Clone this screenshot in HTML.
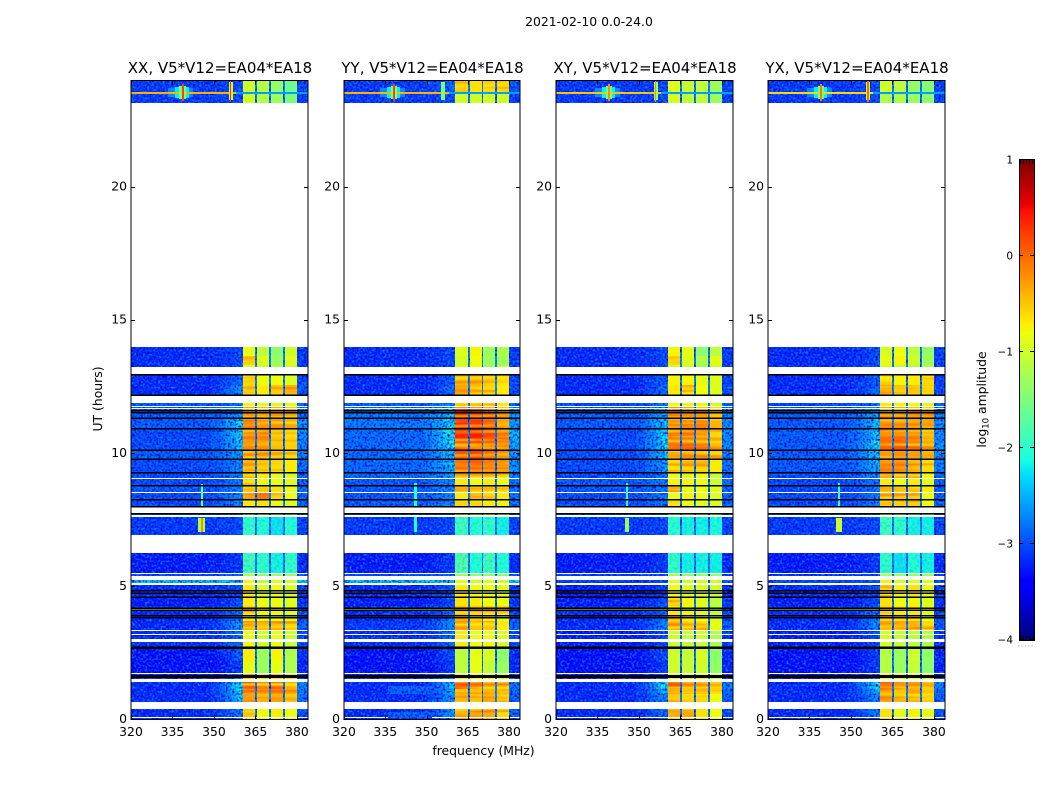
<!DOCTYPE html>
<html lang="en">
<head>
<meta charset="utf-8">
<title>2021-02-10 0.0-24.0 spectrogram panels</title>
<style>
html,body{margin:0;padding:0;background:#fff;width:1050px;height:800px;overflow:hidden}
svg{display:block;font-family:"DejaVu Sans","Liberation Sans",sans-serif;fill:#000}
.tick{font-size:12.4px}
.cell{shape-rendering:crispEdges}
.ln{shape-rendering:crispEdges}
</style>
</head>
<body>
<svg id="chart" xmlns="http://www.w3.org/2000/svg" width="1050" height="800" viewBox="0 0 1050 800">
  <defs>
    <filter id="speckle" x="0" y="0" width="1" height="1" color-interpolation-filters="sRGB">
      <feTurbulence type="fractalNoise" baseFrequency="0.46" numOctaves="1" seed="7" result="n"/>
      <feColorMatrix in="n" type="matrix" values="0 0 0 0 0.05  0 0 0 0 0.52  0 0 0 0 1  3 0 0 0 -1.3" result="light"/>
      <feColorMatrix in="n" type="matrix" values="0 0 0 0 0  0 0 0 0 0  0 0 0 0 0.85  0 3 0 0 -1.35" result="dark"/>
      <feMerge result="both"><feMergeNode in="light"/><feMergeNode in="dark"/></feMerge>
      <feComposite in="both" in2="SourceAlpha" operator="in" result="clipped"/>
      <feMerge><feMergeNode in="SourceGraphic"/><feMergeNode in="clipped"/></feMerge>
    </filter>
    <filter id="dimSpeckle" x="0" y="0" width="1" height="1" color-interpolation-filters="sRGB">
      <feTurbulence type="fractalNoise" baseFrequency="0.4" numOctaves="1" seed="5" result="n"/>
      <feColorMatrix in="n" type="matrix" values="0 0 0 0 0  0 0 0 0 0.75  0 0 0 0 1  1.8 0 0 0 -0.8" result="light"/>
      <feColorMatrix in="n" type="matrix" values="0 0 0 0 0.4  0 0 0 0 1  0 0 0 0 0.5  0 1.8 0 0 -0.8" result="dark"/>
      <feMerge result="both"><feMergeNode in="light"/><feMergeNode in="dark"/></feMerge>
      <feComposite in="both" in2="SourceAlpha" operator="in" result="clipped"/>
      <feMerge><feMergeNode in="SourceGraphic"/><feMergeNode in="clipped"/></feMerge>
    </filter>
    <filter id="stripes" x="0" y="0" width="1" height="1" color-interpolation-filters="sRGB">
      <feTurbulence type="fractalNoise" baseFrequency="0.012 0.3" numOctaves="1" seed="11" result="n"/>
      <feColorMatrix in="n" type="matrix" values="0 0 0 0 1  0 0 0 0 0.95  0 0 0 0 0  2.4 0 0 0 -1" result="yellow"/>
      <feColorMatrix in="n" type="matrix" values="0 0 0 0 0.95  0 0 0 0 0.25  0 0 0 0 0  0 1.6 0 0 -0.78" result="red"/>
      <feMerge result="both"><feMergeNode in="yellow"/><feMergeNode in="red"/></feMerge>
      <feComposite in="both" in2="SourceAlpha" operator="in" result="clipped"/>
      <feMerge><feMergeNode in="SourceGraphic"/><feMergeNode in="clipped"/></feMerge>
    </filter>
  </defs>
  <text x="589" y="26" text-anchor="middle" font-size="12.4">2021-02-10 0.0-24.0</text>
  <text transform="translate(102,399) rotate(-90)" text-anchor="middle" font-size="12.4">UT (hours)</text>
  <text x="483.5" y="755" text-anchor="middle" font-size="12.4">frequency (MHz)</text>
  <text transform="translate(986,399.5) rotate(-90)" text-anchor="middle" font-size="12.4">log<tspan font-size="8.5" dy="2.5">10</tspan><tspan dy="-2.5"> amplitude</tspan></text>
</svg>
<script>
/* ---------- data ---------- */
const panelTitles = ["XX, V5*V12=EA04*EA18","YY, V5*V12=EA04*EA18","XY, V5*V12=EA04*EA18","YX, V5*V12=EA04*EA18"];
const xTicks = [320,335,350,365,380];
const yTicks = [0,5,10,15,20];
const colorbarTicks = [1,0,-1,-2,-3,-4];
/* observation rows, hours */
const rowStarts = [0,0.10,0.67,0.95,1.15,1.52,1.76,2.2,2.72,3.03,3.22,3.38,3.7,3.95,4.25,4.6,5.12,5.4,5.5,6.92,7.67,8.0,8.28,8.56,8.80,9.07,9.28,9.80,10.14,10.5,10.94,11.34,11.69,11.79,12.2,12.55,13.23,13.33,13.65,23.15,23.55];
const rowEnds   = [0.06,0.38,0.95,1.15,1.42,1.7,2.2,2.66,2.92,3.17,3.33,3.7,3.95,4.25,4.55,5.07,5.25,5.45,6.25,7.6,7.72,8.26,8.52,8.78,9.04,9.26,9.78,10.12,10.5,10.92,11.32,11.66,11.75,11.9,12.55,12.93,13.3,13.65,13.98,23.55,24];
/* log10 amplitude per row: background, shoulder, four sub-bands */
const levelsXX = [
[-3.2,-2.9,-.7,-.8,-.8,-.8],[-3.2,-2.7,-.5,-.8,-.7,-.8],[-3.2,-2.3,-.2,-.4,-.3,-.5],[-3.2,-2.2,-.1,-.2,-.1,-.3],[-3.2,-2.1,.1,-.1,.1,-.3],
[-3.3,-2.8,-.5,-.7,-.6,-.7],[-3.4,-3.1,-.85,-1.3,-.85,-1.2],[-3.4,-2.9,-.7,-1.3,-.75,-1.2],[-3.2,-2.8,-.8,-1,-.8,-1],[-3.2,-2.8,-.8,-1,-.8,-1],[-3.2,-2.8,-.8,-1,-.8,-1],
[-3.2,-2.5,-.3,-.4,-.35,-.5],[-3.2,-2.7,-.7,-.8,-.8,-.9],[-3.2,-2.8,-.6,-.75,-.75,-.85],[-3.3,-3,-.7,-.8,-.8,-.9],[-3.2,-3,-.7,-.9,-.8,-.9],
[-2.3,-2.3,-.8,-1.1,-.9,-1],[-3,-2.8,-1.2,-1.4,-1.3,-1.3],[-3.3,-3.1,-1.9,-2,-2.2,-2],[-3.1,-3,-2,-2.1,-2.3,-2.1],[-2.8,-2.6,-1.2,-1.3,-1.3,-1.3],
[-3,-2.6,-.7,-.6,-.8,-.9],[-3,-2.6,-.3,-.1,-.6,-.8],[-2.9,-2.6,-.4,-.5,-.65,-.8],[-3,-2.7,-.6,-.8,-.8,-.85],[-3,-2.7,-.6,-.7,-.8,-.9],
[-3,-2.6,-.3,-.5,-.6,-.7],[-2.9,-2.5,-.35,-.3,-.5,-.6],[-3,-2.3,-.15,-.2,-.45,-.55],[-3,-2.2,-.1,-.15,-.5,-.6],[-2.9,-2.2,-.1,-.2,-.2,-.3],
[-2.9,-2.6,-.3,-.4,-.3,-.4],[-2.9,-2.7,-.5,-.6,-.5,-.6],[-2.9,-2.7,-.8,-.9,-.9,-.9],[-3.2,-2.6,-.5,-.7,-.5,-.3],[-3.2,-2.8,-.6,-.8,-.8,-.9],
[-3.2,-3,-.9,-1,-1.2,-1],[-3.2,-3,-.5,-.9,-1.3,-.9],[-3.2,-3,-.85,-1.1,-1.4,-1],[-3.1,-3,-1,-1.15,-1.3,-1.5],[-3.1,-3,-1,-1.15,-1.35,-1.6]];
const levelsYY = [
[-3.2,-2.6,-.5,-.4,-.45,-.6],[-3.2,-2.5,-.4,-.3,-.3,-.6],[-3.2,-2.5,-.5,-.6,-.4,-.5],[-3.2,-2.4,-.4,-.4,-.35,-.4],[-3.2,-2.3,.15,-.05,-.3,-.35],
[-3.2,-2.8,-.7,-.8,-.8,-.9],[-3.4,-3.1,-1.1,-.85,-1.05,-1.3],[-3.4,-3,-1.1,-.85,-.95,-1.4],[-3.2,-2.8,-.7,-.8,-.8,-.9],[-3.2,-2.8,-.7,-.8,-.8,-.9],[-3.2,-2.8,-.7,-.8,-.8,-.9],
[-3.1,-2.6,-.25,-.5,-.5,-.7],[-3.2,-2.7,-.4,-.6,-.7,-.9],[-3.2,-2.9,-.45,-.55,-.6,-.55],[-3.3,-3,-.65,-.7,-.8,-.8],[-3.2,-2.9,-.7,-.8,-.8,-.85],
[-2.3,-2.3,-.85,-1,-.9,-1],[-3,-2.8,-1.3,-1.4,-1.4,-1.4],[-3.3,-3.1,-1.75,-2.1,-1.9,-2.1],[-3.1,-3,-1.9,-2.1,-2,-2.2],[-2.8,-2.6,-.9,-1,-1,-1.1],
[-2.9,-2.6,-.6,-.6,-.7,-.75],[-2.9,-2.6,-.7,-.5,-.6,-.7],[-2.9,-2.5,-.25,-.3,-.35,-.5],[-2.9,-2.6,-.7,-.8,-.7,-.8],[-2.8,-2.5,-.4,-.5,-.5,-.6],
[-2.8,-2.3,-.05,.05,-.1,-.2],[-2.8,-2.3,.1,.2,-.05,-.2],[-2.8,-2.1,.25,.3,.1,-.1],[-2.8,-2,.35,.4,.2,-.05],[-2.7,-2.2,.35,.3,.05,-.3],
[-2.7,-2.3,.3,.2,0,-.2],[-2.8,-2.5,0,0,-.2,-.4],[-2.9,-2.6,-.4,-.4,-.5,-.7],[-3.2,-2.8,-.35,-.55,-.6,-.7],[-3.2,-2.9,-.5,-.4,-.5,-.6],
[-3.2,-3,-.9,-.8,-1.3,-1.1],[-3.2,-3,-1,-.8,-1.3,-1.3],[-3.2,-3,-.9,-.75,-1.3,-1.2],[-3.1,-3,-1,-1,-1,-1],[-3.1,-2.8,-.5,-.65,-.6,-.6]];
const levelsXY = [
[-3.2,-2.9,-.4,-.6,-.7,-.8],[-3.2,-2.8,-.35,-.4,-.65,-.8],[-3.2,-2.6,-.5,-.6,-.6,-.8],[-3.2,-2.4,-.3,-.4,-.3,-.5],[-3.2,-2.1,.1,-.15,-.2,-.35],
[-3.3,-2.9,-.8,-.9,-.8,-1],[-3.4,-3.1,-1,-1.05,-1,-1.35],[-3.4,-3,-1,-1.05,-.95,-1.4],[-3.3,-3,-1,-1.05,-1,-1.2],[-3.3,-3,-1,-1.05,-1,-1.2],[-3.3,-3,-1,-1.05,-1,-1.2],
[-3.2,-2.6,-.3,-.5,-.5,-.85],[-3.2,-2.8,-.45,-.7,-.8,-1],[-3.2,-2.9,-.7,-.85,-.9,-1.1],[-3.3,-3,-.6,-.75,-.9,-1.1],[-3.3,-3.1,-.8,-.9,-.9,-1],
[-3.1,-3,-.9,-1,-.95,-1],[-3.1,-3,-1.2,-1.3,-1.3,-1.3],[-3.3,-3.1,-2,-2.2,-2.2,-2.2],[-3.1,-3,-2.05,-2.2,-2.2,-2.15],[-2.8,-2.7,-1.2,-1.4,-1.3,-1.3],
[-3,-2.7,-.6,-.8,-.85,-.9],[-3,-2.7,-.8,-.75,-.8,-.9],[-2.9,-2.7,-.4,-.8,-.8,-.9],[-2.9,-2.7,-.75,-.75,-.8,-1],[-3,-2.7,-.8,-.85,-.8,-1],
[-3,-2.5,-.6,-.45,-.5,-.7],[-3,-2.3,-.3,-.25,-.3,-.5],[-3,-2.2,-.05,0,-.1,-.4],[-3,-2.2,-.1,-.05,-.2,-.55],[-2.9,-2.3,-.25,-.2,-.15,-.4],
[-2.9,-2.4,-.1,-.2,-.25,-.5],[-3,-2.6,-.25,-.3,-.5,-.6],[-3,-2.7,-.8,-.9,-.9,-1],[-3.2,-2.8,-.7,-.6,-.8,-.9],[-3.2,-2.9,-.75,-.75,-.85,-.9],
[-3.2,-3,-.95,-1,-1.3,-1],[-3.2,-3,-.6,-.9,-1.2,-.85],[-3.2,-3,-.75,-.85,-1.4,-1.1],[-3.1,-3,-.95,-1.1,-1.1,-1.3],[-3.1,-3,-.9,-1.05,-1.1,-1.3]];
const levelsYX = [
[-3.2,-2.9,-.65,-.9,-.75,-.85],[-3.2,-2.7,-.65,-.85,-.75,-.85],[-3.2,-2.6,-.35,-.55,-.5,-.55],[-3.2,-2.4,-.3,-.5,-.3,-.5],[-3.2,-2.1,-.05,-.25,-.2,-.35],
[-3.3,-2.9,-.75,-.85,-.85,-.95],[-3.4,-3.1,-1.15,-1.3,-1.05,-1.4],[-3.4,-3.1,-1.15,-1.3,-1,-1.35],[-3.3,-3,-.95,-1.05,-1.1,-1.15],[-3.3,-3,-.95,-1.05,-1.1,-1.15],[-3.3,-3,-.95,-1.05,-1.1,-1.15],
[-3.2,-2.6,-.35,-.35,-.35,-.6],[-3.2,-2.7,-.55,-.65,-.65,-.85],[-3.2,-2.9,-.55,-.7,-.7,-.85],[-3.3,-3,-.65,-.8,-.75,-.9],[-3.2,-3,-.55,-.75,-.65,-.85],
[-3,-3,-.75,-.95,-.9,-.95],[-3.1,-3,-1.2,-1.3,-1.3,-1.3],[-3.3,-3.1,-2,-2.3,-2.1,-2.2],[-3.1,-3,-1.9,-2,-2.2,-2.2],[-2.8,-2.7,-1,-1.2,-1.3,-1.3],
[-3,-2.7,-.45,-.55,-.55,-.8],[-3,-2.7,-.5,-.45,-.5,-.8],[-3,-2.7,-.45,-.5,-.5,-.7],[-3,-2.7,-.7,-.8,-.7,-.85],[-3,-2.6,-.4,-.6,-.55,-.8],
[-2.9,-2.4,-.25,-.2,-.35,-.55],[-2.9,-2.3,-.15,-.05,-.2,-.4],[-2.9,-2.2,0,.1,-.05,-.3],[-2.9,-2.3,-.1,-.05,-.1,-.4],[-2.9,-2.3,-.05,-.15,-.2,-.3],
[-2.9,-2.4,-.1,-.2,-.2,-.4],[-3,-2.6,-.2,-.3,-.4,-.5],[-3,-2.7,-.7,-.75,-.8,-.9],[-3.2,-2.8,-.4,-.55,-.5,-.55],[-3.2,-2.9,-.6,-.75,-.7,-.6],
[-3.2,-3,-.95,-1.1,-1.15,-1.2],[-3.2,-3,-.85,-.75,-1,-1.3],[-3.2,-3,-.95,-.8,-1.1,-1.35],[-3.1,-3,-1.2,-1.2,-1.3,-1.4],[-3.1,-3,-1,-1.1,-1.35,-1.45]];
const notchLevel = -2.7;
/* narrow-band interference: start MHz, end MHz, start h, end h, level */
const rfiXX = [[333.5,342.5,23.38,23.72,-2.7],[336,341,23.36,23.74,-2.2],[320,358,23.5,23.58,-.4],[358,384,23.5,23.58,-2.6],[337.5,339.8,23.3,23.8,-1.5],[338.3,339.1,23.22,23.85,.2],[355.3,356.9,23.25,23.95,-1],[355.9,356.3,23.2,24,.3],[345.2,346.1,8,8.85,-1.6],[344.4,346.8,7.05,7.55,-1.2],[345.2,346,7.05,7.55,-.2],[320,360,4.12,4.17,-1.2]];
const rfiYY = [[333,342,23.38,23.72,-2.7],[335.5,340.5,23.36,23.74,-2.2],[320,358,23.5,23.58,-.4],[358,384,23.5,23.58,-2.6],[337,339.3,23.3,23.8,-1.5],[337.8,338.6,23.22,23.85,.2],[355.2,356.6,23.25,23.95,-1.5],[345.4,346.4,8,8.9,-2],[345.3,346.4,7.05,7.6,-2],[320,360,4.12,4.17,-1.2],[336,352,0.05,0.3,-2.85],[336,352,0.95,1.25,-2.85]];
const rfiXY = [[334,343,23.38,23.72,-2.7],[336.5,341.5,23.36,23.74,-2.2],[320,358,23.5,23.58,-.5],[358,384,23.5,23.58,-2.6],[338,340.3,23.3,23.8,-1.5],[338.8,339.6,23.22,23.85,-.2],[355.3,356.9,23.25,23.95,-1.3],[355.9,356.3,23.2,24,-.2],[345.4,346.2,8,8.9,-2],[345,346.5,7.05,7.55,-1.3],[320,360,4.12,4.17,-1.1]];
const rfiYX = [[334,343,23.38,23.72,-2.7],[336.5,341.5,23.36,23.74,-2.2],[320,358,23.5,23.58,-.6],[358,384,23.5,23.58,-2.6],[338,340.3,23.3,23.8,-1.5],[338.8,339.6,23.22,23.85,-.1],[355.3,356.9,23.25,23.95,-1],[355.9,356.4,23.2,24,0],[345.4,346.2,8,8.9,-1.9],[344.6,346.7,7.05,7.55,-1],[320,360,4.12,4.17,-1.2]];
/* flagged (black) integrations, hours */
const flaggedHours = [1.58,1.65,2.68,2.71,3.83,3.89,4.11,4.17,4.6,4.75,4.84,7.73,7.99,8.26,8.78,9.26,9.78,10.12,10.92,11.32,11.53,11.6,12.17,12.94];

/* ---------- layout ---------- */
const panelLeft = [131,344,556,768];
const panelWidth = [177,176,177,177];
const plotTop = 80.5, plotBottom = 719.5;
const freqMin = 320, freqMax = 384, hourMax = 24;
const rampStarts = [349,352,354,356,358];
const rampEnds = [352,354,356,358,360.5];
const rampWeights = [.15,.35,.55,.78,1];
const NS = "http://www.w3.org/2000/svg";
const svg = document.getElementById("chart");

function jet(v){
  const t = Math.max(0,Math.min(1,(v+4)/5));
  const ramp = (x,pts)=>{for(let i=1;i<pts.length;i++){if(x<=pts[i][0]){const a=pts[i-1],b=pts[i];return a[1]+(b[1]-a[1])*(x-a[0])/(b[0]-a[0]);}}return pts[pts.length-1][1];};
  const r = ramp(t,[[0,0],[.35,0],[.66,1],[.89,1],[1,.5]]);
  const g = ramp(t,[[0,0],[.125,0],[.375,1],[.64,1],[.91,0],[1,0]]);
  const b = ramp(t,[[0,.5],[.11,1],[.34,1],[.65,0],[1,0]]);
  return "rgb("+Math.round(r*255)+","+Math.round(g*255)+","+Math.round(b*255)+")";
}
function el(tag,parent){const e=document.createElementNS(NS,tag);parent.appendChild(e);return e;}
function setAll(e,o){for(const k in o)e.setAttribute(k,o[k]);}

const allLevels = [levelsXX,levelsYY,levelsXY,levelsYX];
const allRfi = [rfiXX,rfiYY,rfiXY,rfiYX];
const panelKeys = ["xx","yy","xy","yx"];

panelTitles.forEach(function(title,p){
  const left = panelLeft[p], w = panelWidth[p];
  const xScale = f => left + (f-freqMin)/(freqMax-freqMin)*w;
  const yScale = h => plotBottom - h/hourMax*(plotBottom-plotTop);
  const key = panelKeys[p];
  const panel = el("g",svg);
  
  

  const quiet = el("g",panel);
  
  
  quiet.setAttribute("filter","url(#speckle)");
  const dim = el("g",panel);
  
  
  dim.setAttribute("filter","url(#dimSpeckle)");
  const plain = el("g",panel);
  
  
  const hot = el("g",panel);
  
  
  hot.setAttribute("filter","url(#stripes)");

  function addCell(group,f0,f1,h0,h1,v){
    const x0 = Math.round(xScale(f0)), x1 = Math.round(xScale(f1));
    const y0 = Math.round(yScale(h1)), y1 = Math.round(yScale(h0));
    const r = el("rect",group);
    setAll(r,{class:"cell",x:x0,y:y0,width:Math.max(1,x1-x0),height:Math.max(1,y1-y0),fill:jet(v)});
    
    
  }
  const bandGroup = v => (v < -1.6 ? dim : (v < -.6 ? plain : hot));

  allLevels[p].forEach(function(row,i){
    const h0=rowStarts[i], h1=rowEnds[i];
    const base=row[0], sh=row[1];
    addCell(quiet,320,349,h0,h1,base);
    rampStarts.forEach(function(s,k){
      addCell(quiet,s,rampEnds[k],h0,h1,base+(sh-base)*rampWeights[k]);
    });
    addCell(quiet,380,384,h0,h1,(base+sh)/2);
    addCell(bandGroup(row[2]),360.5,365,h0,h1,row[2]);
    addCell(quiet,365,365.7,h0,h1,notchLevel);
    addCell(bandGroup(row[3]),365.7,370,h0,h1,row[3]);
    addCell(quiet,370,370.7,h0,h1,notchLevel);
    addCell(bandGroup(row[4]),370.7,375,h0,h1,row[4]);
    addCell(quiet,375,375.7,h0,h1,notchLevel);
    addCell(bandGroup(row[5]),375.7,380,h0,h1,row[5]);
  });

  const rfi = el("g",panel);
  
  
  allRfi[p].forEach(function(s){ addCell(s[4] < -2.75 ? quiet : rfi,s[0],s[1],s[2],s[3],s[4]); });

  flaggedHours.forEach(function(h){
    const l = el("rect",panel);
    setAll(l,{class:"ln",x:left,y:yScale(h)-.75,width:w,height:1.5,fill:"#000"});
    
    
  });

  const frame = el("rect",panel);
  setAll(frame,{class:"ln",x:left,y:plotTop,width:w,height:plotBottom-plotTop,fill:"none",stroke:"#000","stroke-width":1});
  
  

  const t = el("text",panel);
  setAll(t,{x:left+w/2+.5,y:73,"text-anchor":"middle","font-size":15});
  t.textContent = title;
  
  

  xTicks.forEach(function(f){
    const x = Math.round(xScale(f))+.5;
    [[plotBottom,plotBottom-4],[plotTop,plotTop+4]].forEach(function(s){
      const m = el("line",panel);
      setAll(m,{class:"ln",x1:x,x2:x,y1:s[0],y2:s[1],stroke:"#000"});
      
      
    });
    const lab = el("text",panel);
    setAll(lab,{class:"tick",x:xScale(f),y:736,"text-anchor":"middle"});
    lab.textContent = f;
    
    
  });
  yTicks.forEach(function(h){
    const y = Math.round(yScale(h)-.5)+.5;
    [[left,left+4],[left+w,left+w-4]].forEach(function(s){
      const m = el("line",panel);
      setAll(m,{class:"ln",x1:s[0],x2:s[1],y1:y,y2:y,stroke:"#000"});
      
      
    });
    const lab = el("text",panel);
    setAll(lab,{class:"tick",x:left-4,y:yScale(h)+3.5,"text-anchor":"end"});
    lab.textContent = h;
    
    
  });
});

/* ---------- colorbar ---------- */
const cbLeft=1019, cbRight=1034, cbTop=160, cbBottom=640, cbMin=-4, cbMax=1;
const cbScale = v => cbBottom-(v-cbMin)/(cbMax-cbMin)*(cbBottom-cbTop);
const cb = el("g",svg);


for(let i=0;i<240;i++){
  const v0 = cbMin+(cbMax-cbMin)*i/240, v1 = cbMin+(cbMax-cbMin)*(i+1)/240;
  const r = el("rect",cb);
  setAll(r,{class:"cell",x:cbLeft,y:cbScale(v1),width:cbRight-cbLeft,height:cbScale(v0)-cbScale(v1),fill:jet((v0+v1)/2)});
  
  
}
const cbFrame = el("rect",cb);
setAll(cbFrame,{class:"ln",x:cbLeft+.5,y:cbTop-.5,width:cbRight-cbLeft,height:cbBottom-cbTop+1,fill:"none",stroke:"#000"});


colorbarTicks.forEach(function(v){
  const y = Math.round(cbScale(v))-.5;
  [[cbLeft,cbLeft+4],[cbRight-4,cbRight]].forEach(function(s){
    const m = el("line",cb);
    setAll(m,{class:"ln",x1:s[0],x2:s[1],y1:y,y2:y,stroke:"#000"});
    
    
  });
  const lab = el("text",cb);
  setAll(lab,{x:cbLeft-6,y:cbScale(v)+3.5,"text-anchor":"end","font-size":10.5});
  lab.textContent = v<0 ? "\u2212"+Math.abs(v) : String(v);
  
  
});
for(let x=cbLeft+1;x<cbRight;x+=3){
  [[cbTop,cbTop+4],[cbBottom-4,cbBottom]].forEach(function(s){
    const m = el("line",cb);
    setAll(m,{class:"ln",x1:x+.5,x2:x+.5,y1:s[0],y2:s[1],stroke:"#000"});
    
    
  });
}
const dots = el("line",cb);
setAll(dots,{x1:1018,x2:1035,y1:646,y2:646,stroke:"#999","stroke-width":1,"stroke-dasharray":"1 2.4"});


</script>
</body>
</html>
